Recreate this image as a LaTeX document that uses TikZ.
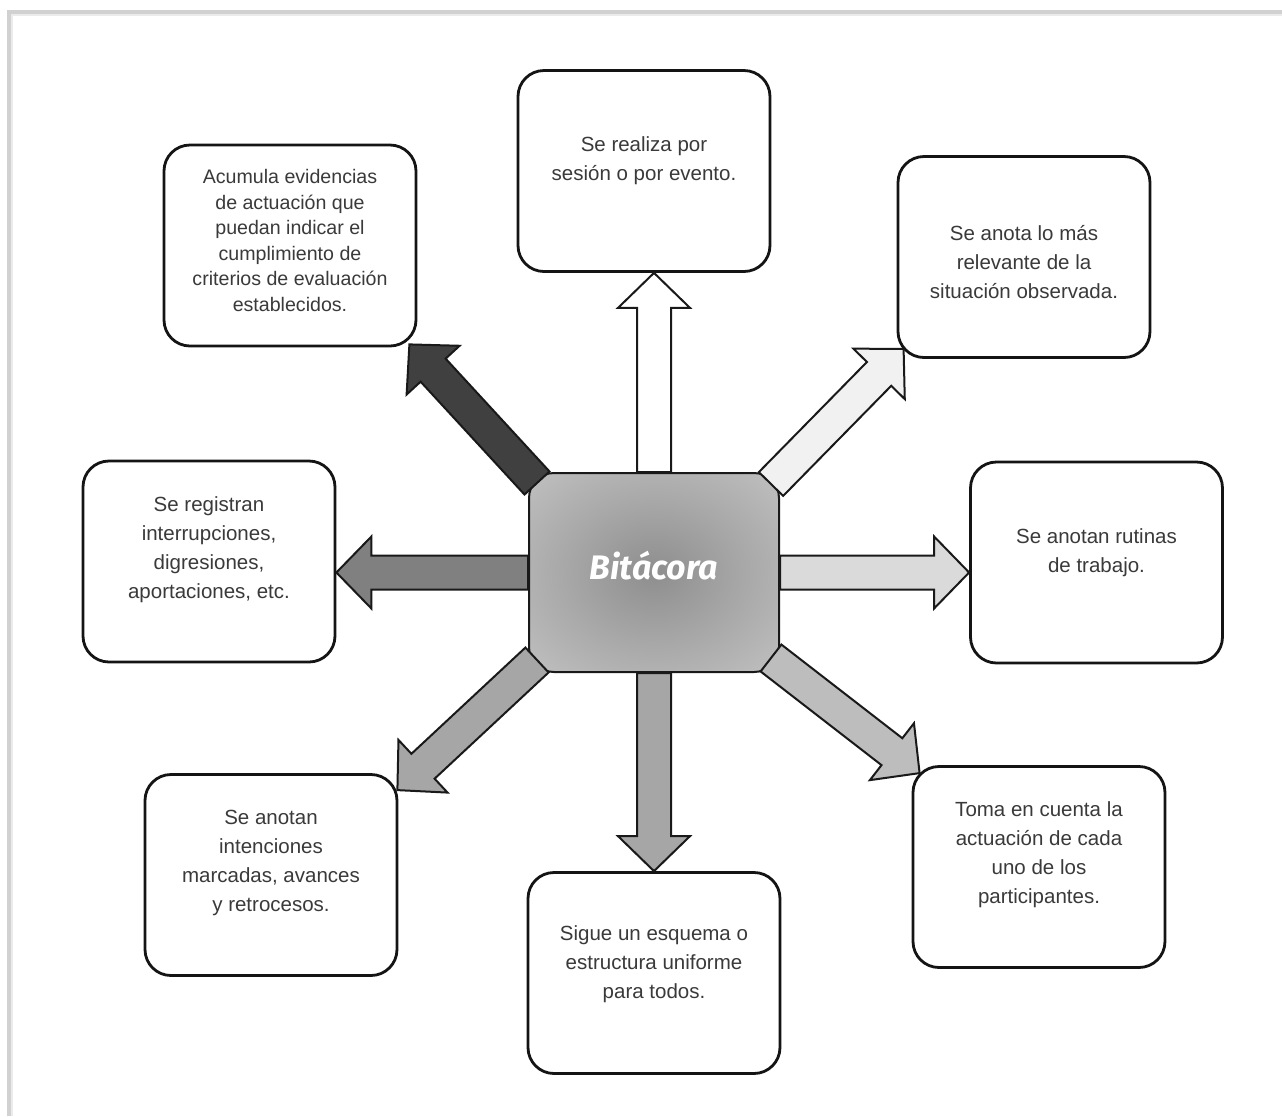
\documentclass[tikz,border=0pt]{standalone}
\usepackage{fontspec}
\setmainfont{Liberation Sans}
\newfontfamily\bitfont{Fira Sans}
\usetikzlibrary{calc}
\definecolor{txt}{HTML}{3A3A3A}
\definecolor{shA}{HTML}{8E8E8E}
\definecolor{shB}{HTML}{A8A8A8}
\definecolor{shC}{HTML}{C9C9C9}
\definecolor{shD}{HTML}{D6D6D6}
\definecolor{fDark}{HTML}{404040}
\definecolor{fMid}{HTML}{808080}
\definecolor{fBot}{HTML}{A6A6A6}
\definecolor{fBR}{HTML}{BDBDBD}
\definecolor{fRight}{HTML}{DADADA}
\definecolor{fTR}{HTML}{F1F1F1}
\pgfdeclareradialshading{bitshade}{\pgfpointorigin}{color(0bp)=(shA); color(18bp)=(shB); color(42bp)=(shC); color(75bp)=(shD)}
\tikzset{
  infobox/.style={draw=black!92, line width=1.4pt, rounded corners=13pt,
    minimum width=126pt, minimum height=100.5pt, inner sep=0pt, fill=white},
  infotext/.style={text=txt, align=center, inner sep=0pt,
    font=\fontsize{10.25}{14.5}\selectfont},
  smalltext/.style={text=txt, align=center, inner sep=0pt,
    font=\fontsize{9.8}{12.8}\selectfont},
  hub/.style={draw=black!90, line width=1pt, rounded corners=12.5pt,
    minimum width=125pt, minimum height=99.5pt, inner sep=0pt,
    shade, shading=bitshade},
  blk/.style={draw=black!90, line width=1pt, line join=miter},
  pageedge/.style={draw=black!18, line width=1.6pt}
}
\newcommand\blockarrow[3]{%
  \path ($(#3)!17.5pt!(#2)$) coordinate (ba-n);
  \draw[blk, fill=#1] ($(#2)!8.5pt!90:(#3)$) -- ($(ba-n)!8.5pt!90:(#3)$)
    -- ($(ba-n)!18pt!90:(#3)$) -- (#3) -- ($(ba-n)!18pt!-90:(#3)$)
    -- ($(ba-n)!8.5pt!-90:(#3)$) -- ($(#2)!8.5pt!-90:(#3)$) -- cycle;}
\begin{document}
\begin{tikzpicture}[x={(0.5pt,0)}, y={(0,-0.5pt)}]
\useasboundingbox[fill=white] (0,0) rectangle (1282,1116);
\draw[pageedge] (9,1116) -- (9,12) -- (1282,12);
\draw[draw=black!8, line width=1.2pt] (12,1116) -- (12,15) -- (1282,15);

% boxes
\node[infobox] (b1) at (644,171) {};
\node[infobox] (b2) at (290,245.5) {};
\node[infobox] (b3) at (1024,257) {};
\node[infobox] (b4) at (209,561.5) {};
\node[infobox] (b5) at (1096.5,562.5) {};
\node[infobox] (b6) at (271,875) {};
\node[infobox] (b7) at (654,973) {};
\node[infobox] (b8) at (1039,867) {};

\node[infotext] (t1) at ($(b1)+(0,-10)$) {Se realiza por\\sesión o por evento.};
\node[smalltext] (t2) at ($(b2)+(0,-5)$) {Acumula evidencias\\de actuación que\\puedan indicar el\\cumplimiento de\\criterios de evaluación\\establecidos.};
\node[infotext] (t3) at ($(b3)+(0,5)$) {Se anota lo más\\relevante de la\\situación observada.};
\node[infotext] (t4) at ($(b4)+(0,-12)$) {Se registran\\interrupciones,\\digresiones,\\aportaciones, etc.};
\node[infotext] (t5) at ($(b5)+(0,-10)$) {Se anotan rutinas\\de trabajo.};
\node[infotext] (t6) at ($(b6)+(0,-12)$) {Se anotan\\intenciones\\marcadas, avances\\y retrocesos.};
\node[infotext] (t7) at ($(b7)+(0,-9)$) {Sigue un esquema o\\estructura uniforme\\para todos.};
\node[infotext] (t8) at ($(b8)+(0,-12)$) {Toma en cuenta la\\actuación de cada\\uno de los\\participantes.};

% hub
\node[hub] (C) at (654,572.5) {};
\node[text=white, font=\bitfont\bfseries\itshape\fontsize{17}{20}\selectfont] (ct) at ($(C)+(0,-7)$) {Bitácora};

% arrow end points
\coordinate (a1s) at (C.north);
\coordinate (a1e) at (C.north |- b1.south);
\coordinate (a2s) at ($(C.north west)+(9,11)$);
\coordinate (a2e) at ($(b2.south east)+(-8,-3)$);
\coordinate (a3s) at ($(C.north east)+(-9,12)$);
\coordinate (a3e) at ($(b3.south west)+(7,-10)$);
\coordinate (a4s) at (C.west);
\coordinate (a4e) at (C.west -| b4.east);
\coordinate (a5s) at (C.east);
\coordinate (a5e) at (C.east -| b5.west);
\coordinate (a6s) at ($(C.south west)+(9,-13)$);
\coordinate (a6e) at ($(b6.north east)+(-1,17)$);
\coordinate (a7s) at (C.south);
\coordinate (a7e) at (C.south |- b7.north);
\coordinate (a8s) at ($(C.south east)+(-9,-15)$);
\coordinate (a8e) at ($(b8.north west)+(8,8)$);

\blockarrow{white}{a1s}{a1e}
\blockarrow{fDark}{a2s}{a2e}
\blockarrow{fTR}{a3s}{a3e}
\blockarrow{fMid}{a4s}{a4e}
\blockarrow{fRight}{a5s}{a5e}
\blockarrow{fBot}{a6s}{a6e}
\blockarrow{fBot}{a7s}{a7e}
\blockarrow{fBR}{a8s}{a8e}
\end{tikzpicture}
\end{document}
